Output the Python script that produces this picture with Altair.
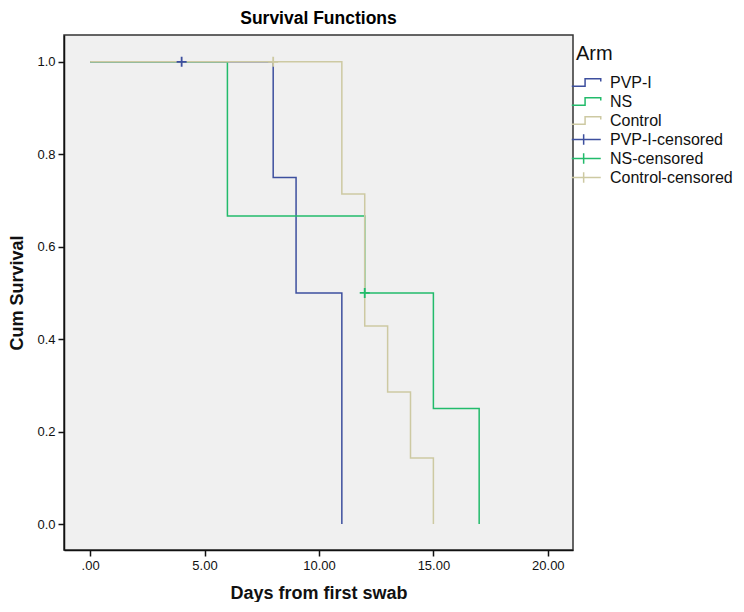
import altair as alt
import pandas as pd

# Kaplan-Meier step data
arms = ["PVP-I", "NS", "Control"]
pvp_days = [0, 8, 9, 11]
pvp_surv = [1.0, 0.75, 0.5, 0.0]
ns_days = [0, 6, 12, 15, 17]
ns_surv = [1.0, 0.6667, 0.5, 0.25, 0.0]
ctl_days = [0, 11, 12, 13, 14, 15]
ctl_surv = [1.0, 0.7143, 0.4286, 0.2857, 0.1429, 0.0]

# censored observations
cens_arm = ["PVP-I-censored", "NS-censored", "Control-censored"]
cens_days = [4, 12, 8]
cens_surv = [1.0, 0.5, 1.0]

legend_order = ["PVP-I", "NS", "Control", "PVP-I-censored", "NS-censored", "Control-censored"]
colors = ["#3d4f9e", "#22bb6b", "#cdc9a2", "#3d4f9e", "#22bb6b", "#cdc9a2"]
step_path = "M-1.55,0.4H-0.15V-0.4H1.5V-0.1"
legend_cross = "M-1.55,0H1.5M-0.3,-0.55V0.55"
plot_cross = "M-1,0H1M0,-1V1"
shapes = [step_path, step_path, step_path, legend_cross, legend_cross, legend_cross]

rows = []
for name, d, s in zip(arms, [pvp_days, ns_days, ctl_days], [pvp_surv, ns_surv, ctl_surv]):
    for i, (x, y) in enumerate(zip(d, s)):
        rows.append({"Arm": name, "days": x, "surv": y, "order": i})
lines_df = pd.DataFrame(rows)
cens_df = pd.DataFrame({"Arm": cens_arm, "days": cens_days, "surv": cens_surv})

xscale = alt.Scale(domain=[-1.14, 21.1], nice=False, zero=False)
yscale = alt.Scale(domain=[-0.056, 1.058], nice=False, zero=False)
color_scale = alt.Scale(domain=legend_order, range=colors)
shape_scale = alt.Scale(domain=legend_order, range=shapes)

xaxis = alt.Axis(
    title="Days from first swab",
    values=[0, 5, 10, 15, 20],
    labelExpr="datum.value == 0 ? '.00' : format(datum.value, '.2f')",
    grid=False,
)
yaxis = alt.Axis(title="Cum Survival", values=[0, 0.2, 0.4, 0.6, 0.8, 1.0], format=".1f", grid=False)

legend = alt.Legend(
    title="\u2002\u2002Arm",
    orient="none",
    legendX=512,
    legendY=9,
    symbolSize=361,
    symbolStrokeWidth=1.5,
    symbolOpacity=1,
    labelFontSize=16,
    titleFontSize=20,
    titleFontWeight="normal",
    titlePadding=8,
    rowPadding=0,
    labelOffset=13,
    titleAnchor="start",
)

color_enc = alt.Color("Arm:N", scale=color_scale, legend=legend, sort=legend_order)

line_layers = []
for name in arms:
    line_layers.append(
        alt.Chart(lines_df)
        .transform_filter(alt.datum.Arm == name)
        .mark_line(interpolate="step-after", strokeWidth=1.5)
        .encode(
            x=alt.X("days:Q", scale=xscale, axis=xaxis),
            y=alt.Y("surv:Q", scale=yscale, axis=yaxis),
            color=color_enc,
            order="order:Q",
        )
    )

# visible censor marks in the plot
crosses = alt.Chart(cens_df).mark_point(filled=False, strokeWidth=1.8, size=100, opacity=1, shape=plot_cross).encode(
    x=alt.X("days:Q", scale=xscale),
    y=alt.Y("surv:Q", scale=yscale),
    color=color_enc,
)

# carries the legend symbol shapes only
legend_layer = alt.Chart(cens_df).mark_point(filled=False, opacity=0, size=100).encode(
    x=alt.X("days:Q", scale=xscale),
    y=alt.Y("surv:Q", scale=yscale),
    color=color_enc,
    shape=alt.Shape("Arm:N", scale=shape_scale, legend=legend, sort=legend_order),
)

chart = (
    alt.layer(*line_layers, crosses, legend_layer)
    .properties(
        width=509,
        height=515,
        title=alt.TitleParams("Survival Functions", fontSize=17.5, fontWeight="bold", anchor="middle", offset=8),
        padding={"left": 0, "top": 1, "right": 0, "bottom": 0},
    )
    .configure(font="Liberation Sans")
    .configure_view(fill="#f0f0f0", stroke="#333333", strokeWidth=1.5)
    .configure_axis(
        domainColor="#111111",
        domainWidth=1.5,
        tickColor="#111111",
        tickWidth=1.5,
        tickSize=6,
        labelFontSize=13,
        labelColor="#111111",
        titleFontSize=18,
        titleFontWeight="bold",
        titleColor="#111111",
        labelPadding=3,
    )
    .configure_axisX(titlePadding=12)
    .configure_axisY(titlePadding=10)
    .configure_legend(labelColor="#111111", titleColor="#111111")
)

chart.save("out.html", embed_options={"renderer": "svg", "actions": False})
